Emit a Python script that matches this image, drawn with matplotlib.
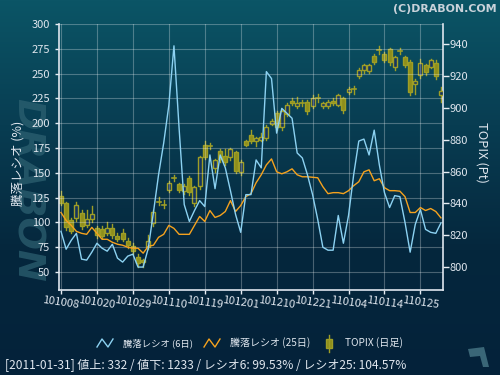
import numpy as np
import matplotlib.pyplot as plt
from matplotlib.colors import LinearSegmentedColormap
from matplotlib.lines import Line2D
from matplotlib.patches import Rectangle, Polygon

plt.rcParams['font.family'] = ['Noto Sans CJK JP', 'DejaVu Sans']

tick_pos = [0, 7, 14, 21, 28, 35, 42, 49, 56, 63, 70]
tick_labels = ['101008', '101020', '101029', '101110', '101119', '101201',
               '101210', '101221', '110104', '110114', '110125']

ratio6 = [91, 73, 82, 89, 63, 62, 70, 79, 74, 71, 78, 64, 60, 66, 68, 55, 55, 74, 110, 148,
          180, 218, 278, 195, 118, 101, 112, 122, 116, 168, 134, 168, 155, 132, 108, 90, 128, 128, 163, 155,
          252, 245, 190, 215, 210, 205, 170, 165, 148, 128, 103, 75, 72, 72, 107, 79, 107, 148, 182, 184,
          168, 193, 158, 130, 115, 127, 126, 100, 70, 98, 113, 93, 90, 89, 99.53]
ratio25 = [110, 102, 97, 91, 89, 88, 95, 89, 83, 83, 80, 78, 77, 75, 74, 74, 69, 76, 77, 85,
           88, 97, 94, 88, 88, 88, 97, 106, 101, 112, 105, 107, 111, 122, 111, 117, 126, 129, 140, 148,
           158, 164, 151, 149, 151, 154, 148, 146, 146, 145.5, 145, 136, 129, 130, 130, 129, 132, 137, 141, 151,
           153, 142, 144, 135, 132, 132, 131.5, 126, 110, 110, 115, 112, 114, 111, 104.57]

topix_open = [844.4, 840, 829.7, 831, 834, 826.5, 830, 824.6, 824, 821.5, 824.6, 819.6, 821.5, 816.4, 813.3,
              806.3, 804, 812.6, 827.8, 841, 839, 848.6, 856, 852, 848, 856, 840, 851, 877, 876,
              862, 873, 870, 869, 872.5, 860, 879, 883, 879, 880, 881, 890, 897, 888, 896.5,
              904.7, 901.5, 903, 904, 901, 906, 901, 901.5, 904.7, 902, 906, 910, 911.7, 920, 924,
              923.6, 933, 936.3, 934.3, 937, 926, 936, 932.4, 929, 915, 920.5, 927, 926, 928.6, 908.5]
topix_close = [840.2, 825, 822.7, 839, 826, 830, 833.5, 820, 819.6, 824.6, 820, 817.7, 817.7, 814, 810,
               802.5, 803, 816, 834.7, 841.5, 839.5, 853, 856.5, 848.6, 851, 847, 850, 869, 869, 876.5,
               867, 868, 866, 874, 860.5, 866, 877, 879, 881, 882, 888, 892, 888, 898, 902,
               903, 903.4, 903.2, 898.4, 906.6, 906.2, 903, 904, 903.4, 908.5, 899, 912, 911.9, 924, 927,
               927.4, 929, 936.5, 930, 929, 932, 936.2, 927, 910, 917, 928.6, 922.4, 930, 920, 911]
topix_high = [847.5, 841, 831, 841, 836, 836, 838, 826, 826, 828, 827, 821, 824, 818, 815,
              808, 805, 820, 836, 844, 842, 854, 858, 853, 852, 857, 851, 870, 879, 878,
              868, 874, 874, 875, 873, 867, 880, 886, 882, 884, 889, 893, 898, 899, 903,
              906, 907, 905, 905, 908, 909, 904, 905, 906, 909, 907, 913, 914, 925, 928,
              928, 934, 939, 935, 938, 933, 938, 933, 930, 918, 931, 928, 931, 930, 913]
topix_low = [839, 823, 821, 829, 824, 825, 828, 818, 818, 820, 818, 816, 816, 812, 808,
             800, 800, 811, 826, 839, 837, 847, 854, 847, 846, 845, 838, 849, 868, 874,
             860, 866, 864, 867, 859, 858, 876, 878, 876, 879, 880, 889, 886, 886, 895,
             902, 900, 901, 896, 900, 904, 900, 900, 902, 901, 897, 909, 909, 919, 922,
             922, 928, 934, 929, 927, 924, 934, 926, 908, 909, 919, 921, 925, 918, 904]

blue = '#8cd2f2'
orange = '#f5a21e'
olive_fill = '#8e8e1c'
olive_edge = '#9e9e26'
plot_bg = '#15345f'
txt = '#dfe6ee'

fig = plt.figure(figsize=(5, 3.75), dpi=100)

bg = fig.add_axes([0, 0, 1, 1], zorder=-10)
cmap = LinearSegmentedColormap.from_list('bg', ['#0b5566', '#083d52', '#05273d', '#04223a'])
bg.imshow(np.linspace(0, 1, 256).reshape(-1, 1), aspect='auto', cmap=cmap,
          extent=[0, 1, 0, 1], origin='upper')
bg.axis('off')


def fx(px):
    return px / 500


def fy(py):
    return 1 - py / 375


# faint site logo behind the left label and a small mark at the bottom right
logo = fig.text(fx(27), fy(190), 'DRABON', rotation=270, color='#2f6373', alpha=0.7,
                fontsize=26, fontweight='bold', style='italic', family='DejaVu Sans',
                ha='center', va='center', zorder=-5)
fig.add_artist(Polygon([(fx(468), fy(349)), (fx(484), fy(347)), (fx(489), fy(367)),
                        (fx(483), fy(367)), (fx(480), fy(356)), (fx(470), fy(357))],
                       closed=True, facecolor='#3a6677', edgecolor='none',
                       transform=fig.transFigure, zorder=-5))

ax = fig.add_axes([0.118, 0.227, 0.768, 0.709])
ax2 = ax.twinx()
ax.set_zorder(2)
ax2.set_zorder(1)
ax.patch.set_visible(False)
ax2.set_facecolor(plot_bg)

x = np.arange(len(ratio6))
w = 0.78
for i in x:
    o, h, l, c = topix_open[i], topix_high[i], topix_low[i], topix_close[i]
    ax2.plot([i, i], [l, h], color=olive_edge, lw=1.0, zorder=2)
    lo, hi = min(o, c), max(o, c)
    if hi - lo < 0.6:
        ax2.plot([i - w / 2, i + w / 2], [o, o], color=olive_edge, lw=1.2, zorder=3)
    else:
        fc = olive_fill if c < o else plot_bg
        ax2.add_patch(Rectangle((i - w / 2, lo), w, hi - lo, facecolor=fc,
                                edgecolor=olive_edge, lw=1.0, zorder=3))

ax.plot(x, ratio25, color=orange, lw=1.0, zorder=4)
ax.plot(x, ratio6, color=blue, lw=1.0, zorder=5)

ax.set_xlim(-0.39, 74.4)
ax.set_ylim(32, 300)
ax2.set_ylim(785.5, 952.9)

ax.set_yticks(range(50, 301, 25))
ax2.set_yticks(range(800, 941, 20))
ax.set_xticks(tick_pos)
ax.set_xticklabels(tick_labels, rotation=-8, ha='center', fontsize=7.5, style='italic')

ax.grid(True, color='white', alpha=0.28, lw=0.8, zorder=0)
for a in (ax, ax2):
    a.tick_params(colors='#e8eef4', labelcolor=txt, labelsize=8, length=3, width=1)
    for s in a.spines.values():
        s.set_visible(False)
ax.tick_params(axis='x', pad=1)
ax2.tick_params(axis='y', length=4, pad=1)
ax.spines['left'].set_visible(True)
ax.spines['bottom'].set_visible(True)
ax2.spines['right'].set_visible(True)
for s in (ax.spines['left'], ax.spines['bottom'], ax2.spines['right']):
    s.set_color('#dfe6ee')
    s.set_linewidth(1.2)

texts = [(logo, 184, True)]  # (text artist, wanted size in px, measure along height?)

t = fig.text(fx(18), fy(163), '騰落レシオ (%)', rotation=90, color=txt,
             fontsize=8.5, ha='center', va='center')
texts.append((t, 85, True))
t = fig.text(fx(482), fy(152), 'TOPIX (Pt)', rotation=270, color=txt,
             fontsize=8.5, ha='center', va='center')
texts.append((t, 61, True))
t = fig.text(fx(497), fy(9), '(C)DRABON.COM', color='#c9d2da', fontsize=8,
             fontweight='bold', ha='right', va='center', family='DejaVu Sans')
texts.append((t, 104, False))

# legend row
fig.add_artist(Line2D([fx(97), fx(102), fx(108), fx(113)], [fy(347), fy(339), fy(347), fy(339)],
                      color=blue, lw=1.0))
t = fig.text(fx(123), fy(343), '騰落レシオ (6日)', color=txt, fontsize=7, va='center')
texts.append((t, 70, False))
fig.add_artist(Line2D([fx(204), fx(209), fx(215), fx(220)], [fy(347), fy(339), fy(347), fy(339)],
                      color=orange, lw=1.0))
t = fig.text(fx(230), fy(343), '騰落レシオ (25日)', color=txt, fontsize=7, va='center')
texts.append((t, 80, False))
fig.add_artist(Line2D([fx(328.5), fx(328.5)], [fy(335), fy(352)], color=olive_edge, lw=1.0))
fig.add_artist(Rectangle((fx(325.5), fy(348)), fx(6), 9 / 375, facecolor=olive_fill,
                         edgecolor=olive_edge, lw=1.0, transform=fig.transFigure))
t = fig.text(fx(345), fy(343), 'TOPIX (日足)', color=txt, fontsize=7, va='center')
texts.append((t, 58, False))

t = fig.text(fx(5), fy(366), '[2011-01-31] 値上: 332 / 値下: 1233 / レシオ6: 99.53% / レシオ25: 104.57%',
             color=txt, fontsize=7.2, va='center')
texts.append((t, 402, False))

# size the texts to the widths measured on the reference
fig.canvas.draw()
r = fig.canvas.get_renderer()
for t, want, vertical in texts:
    bb = t.get_window_extent(r)
    have = bb.height if vertical else bb.width
    t.set_fontsize(t.get_fontsize() * want / have)

fig.savefig('out.png', dpi=100)
